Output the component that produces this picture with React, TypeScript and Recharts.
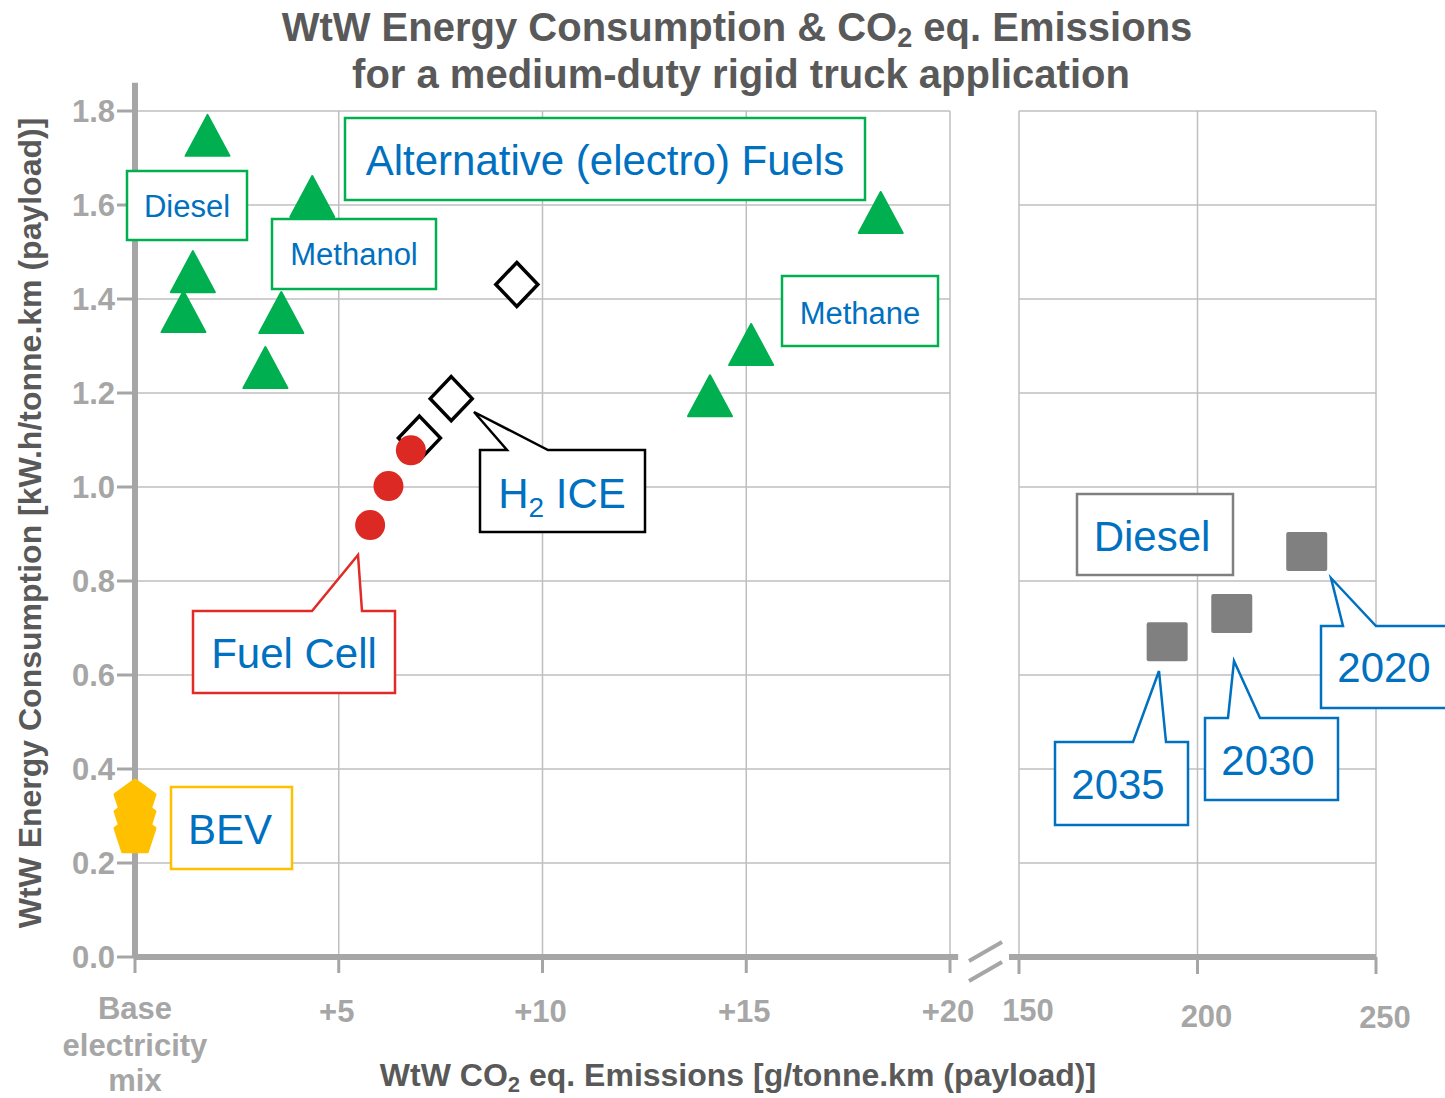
import React from 'react';
import { ScatterChart, Scatter, XAxis, YAxis, CartesianGrid, ReferenceLine } from 'recharts';

const W = 1445;
const H = 1098;

// axes
const yTicks = [0, 0.2, 0.4, 0.6, 0.8, 1.0, 1.2, 1.4, 1.6, 1.8];
const leftTicks = [0, 5, 10, 15, 20]; // + g/tonne.km over base electricity mix
const rightTicks = [150, 200, 250];

// alternative (electro) fuels
const efDieselX = [1.78, 1.42, 1.19];
const efDieselY = [1.745, 1.455, 1.37];
const methanolX = [4.35, 3.59, 3.2];
const methanolY = [1.615, 1.368, 1.251];
const methaneX = [18.3, 15.12, 14.11];
const methaneY = [1.581, 1.3, 1.191];

// hydrogen + battery
const h2IceX = [9.37, 7.76, 6.98];
const h2IceY = [1.431, 1.188, 1.104];
const fuelCellX = [6.77, 6.22, 5.77];
const fuelCellY = [1.078, 1.002, 0.919];
const bevX = [0, 0, 0];
const bevY = [0.332, 0.296, 0.26];

// fossil diesel
const dieselYears = ['2020', '2030', '2035'];
const dieselX = [230.6, 209.6, 191.5];
const dieselY = [0.863, 0.731, 0.671];

const zip = (xs: number[], ys: number[]) => xs.map((x, i) => ({ x, y: ys[i] }));

const FONT = '"Liberation Sans", Arial, Helvetica, sans-serif';
const AXIS_GRAY = '#A6A6A6';
const GRID_GRAY = '#BFBFBF';
const LABEL_GRAY = '#595959';
const BLUE = '#0070C0';
const GREEN = '#00B050';

const YW = 60;
const XH = 60;

const Triangle = (p: any) => (
  <polygon
    points={`${p.cx},${p.cy - 22} ${p.cx - 22},${p.cy + 19} ${p.cx + 22},${p.cy + 19}`}
    fill={GREEN}
    stroke={GREEN}
    strokeWidth={2}
    strokeLinejoin="round"
  />
);

const Diamond = (p: any) => (
  <polygon
    points={`${p.cx},${p.cy - 22} ${p.cx + 21},${p.cy} ${p.cx},${p.cy + 22} ${p.cx - 21},${p.cy}`}
    fill="#fff"
    stroke="#000"
    strokeWidth={3.5}
  />
);

const Dot = (p: any) => <circle cx={p.cx} cy={p.cy} r={15} fill="#DD2923" />;

const Pentagon = (p: any) => {
  const r = 21;
  const pts = [0, 1, 2, 3, 4]
    .map((k) => {
      const a = -Math.PI / 2 + (k * 2 * Math.PI) / 5;
      return `${p.cx + r * Math.cos(a)},${p.cy + r * Math.sin(a)}`;
    })
    .join(' ');
  return <polygon points={pts} fill="#FFC000" stroke="#FFC000" strokeWidth={3} strokeLinejoin="round" />;
};

const Square = (p: any) => (
  <rect x={p.cx - 20.5} y={p.cy - 19.5} width={41} height={39} rx={2} fill="#808080" />
);

const tickStyle = { fontFamily: FONT, fontWeight: 700, fontSize: 31, fill: AXIS_GRAY };

const LeftTick = ({ x, y, payload }: any) => {
  const v = payload.value;
  if (v === 0) {
    return (
      <text x={x} y={y} textAnchor="middle" style={tickStyle}>
        <tspan x={x} dy={44}>Base</tspan>
        <tspan x={x} dy={37}>electricity</tspan>
        <tspan x={x} dy={35}>mix</tspan>
      </text>
    );
  }
  return (
    <text x={x - 2} y={y + 47} textAnchor="middle" style={tickStyle}>
      {`+${v}`}
    </text>
  );
};

const rightTickShift: Record<number, number> = { 150: 45, 200: 51, 250: 52 };

const RightTick = ({ x, y, payload }: any) => (
  <text x={x + 9} y={y + (rightTickShift[payload.value] ?? 48)} textAnchor="middle" style={tickStyle}>
    {payload.value}
  </text>
);

const NoTick = () => <g />;

const boxText = { fontFamily: FONT, fill: BLUE, textAnchor: 'middle' as const };

export default function App() {
  return (
    <div style={{ position: 'absolute', left: 0, top: 0, width: W, height: H, background: '#fff', overflow: 'hidden' }}>
      {/* left panel: extra emissions over base mix */}
      <div style={{ position: 'absolute', left: 0, top: 0 }}>
        <ScatterChart
          width={W}
          height={H}
          margin={{ top: 111, right: W - 950, bottom: H - 957 - XH, left: 135 - YW }}
        >
          <CartesianGrid stroke={GRID_GRAY} strokeWidth={1.5} />
          <XAxis
            type="number"
            dataKey="x"
            domain={[0, 20]}
            ticks={leftTicks}
            height={XH}
            axisLine={{ stroke: AXIS_GRAY, strokeWidth: 6 }}
            tickLine={{ stroke: AXIS_GRAY, strokeWidth: 3 }}
            tickSize={16}
            tick={<LeftTick />}
            interval={0}
          />
          <YAxis
            type="number"
            dataKey="y"
            domain={[0, 1.8]}
            ticks={yTicks}
            width={YW}
            axisLine={false}
            tickLine={{ stroke: AXIS_GRAY, strokeWidth: 3 }}
            tickSize={18}
            tickFormatter={(v: number) => v.toFixed(1)}
            tick={tickStyle}
            interval={0}
          />
          <ReferenceLine
            segment={[{ x: 0, y: 0 }, { x: 0, y: 1.86 }]}
            stroke={AXIS_GRAY}
            strokeWidth={6}
            ifOverflow="visible"
          />
          <ReferenceLine
            segment={[{ x: 19.9, y: 0 }, { x: 20.2, y: 0 }]}
            stroke={AXIS_GRAY}
            strokeWidth={6}
            ifOverflow="visible"
          />
          <Scatter data={zip(efDieselX, efDieselY)} shape={Triangle} isAnimationActive={false} />
          <Scatter data={zip(methanolX, methanolY)} shape={Triangle} isAnimationActive={false} />
          <Scatter data={zip(methaneX, methaneY)} shape={Triangle} isAnimationActive={false} />
          <Scatter data={zip(h2IceX, h2IceY)} shape={Diamond} isAnimationActive={false} />
          <Scatter data={zip(fuelCellX, fuelCellY)} shape={Dot} isAnimationActive={false} />
          <Scatter data={zip(bevX, bevY)} shape={Pentagon} isAnimationActive={false} />
        </ScatterChart>
      </div>

      {/* right panel: absolute diesel emissions */}
      <div style={{ position: 'absolute', left: 0, top: 0 }}>
        <ScatterChart
          width={W}
          height={H}
          margin={{ top: 111, right: W - 1376, bottom: H - 957 - XH, left: 1019 - 1 }}
        >
          <CartesianGrid stroke={GRID_GRAY} strokeWidth={1.5} />
          <XAxis
            type="number"
            dataKey="x"
            domain={[150, 250]}
            ticks={rightTicks}
            height={XH}
            axisLine={{ stroke: AXIS_GRAY, strokeWidth: 6 }}
            tickLine={{ stroke: AXIS_GRAY, strokeWidth: 3 }}
            tickSize={17}
            tick={<RightTick />}
            interval={0}
          />
          <YAxis
            type="number"
            dataKey="y"
            domain={[0, 1.8]}
            ticks={yTicks}
            width={1}
            axisLine={false}
            tickLine={false}
            tick={<NoTick />}
            interval={0}
          />
          <ReferenceLine
            segment={[{ x: 147.2, y: 0 }, { x: 150.5, y: 0 }]}
            stroke={AXIS_GRAY}
            strokeWidth={6}
            ifOverflow="visible"
          />
          <Scatter
            data={dieselX.map((x, i) => ({ x, y: dieselY[i], year: dieselYears[i] }))}
            shape={Square}
            isAnimationActive={false}
          />
        </ScatterChart>
      </div>

      {/* titles, labels and callouts */}
      <svg width={W} height={H} style={{ position: 'absolute', left: 0, top: 0, pointerEvents: 'none' }}>
        <g style={{ fontFamily: FONT, fontWeight: 700, fill: LABEL_GRAY }}>
          <text x={737} y={41} textAnchor="middle" fontSize={40}>
            WtW Energy Consumption &amp; CO<tspan fontSize={27} dy={6}>2</tspan>
            <tspan dy={-6}> eq. Emissions</tspan>
          </text>
          <text x={741} y={88} textAnchor="middle" fontSize={40}>
            for a medium-duty rigid truck application
          </text>
          <text x={738} y={1086} textAnchor="middle" fontSize={32}>
            WtW CO<tspan fontSize={22} dy={6}>2</tspan>
            <tspan dy={-6}> eq. Emissions [g/tonne.km (payload)]</tspan>
          </text>
          <text transform="translate(41,523) rotate(-90)" textAnchor="middle" fontSize={32}>
            WtW Energy Consumption [kW.h/tonne.km (payload)]
          </text>
        </g>

        {/* axis break */}
        <line x1={969} y1={961} x2={1002} y2={942} stroke={AXIS_GRAY} strokeWidth={4} />
        <line x1={969} y1={981} x2={1002} y2={962} stroke={AXIS_GRAY} strokeWidth={4} />

        {/* plain labels */}
        <rect x={127} y={171} width={120} height={69} fill="#fff" stroke={GREEN} strokeWidth={2.5} />
        <text x={187} y={217} fontSize={31} style={boxText}>Diesel</text>

        <rect x={272} y={219} width={164} height={70} fill="#fff" stroke={GREEN} strokeWidth={2.5} />
        <text x={354} y={265} fontSize={31} style={boxText}>Methanol</text>

        <rect x={345} y={118} width={520} height={82} fill="#fff" stroke={GREEN} strokeWidth={2.5} />
        <text x={605} y={175} fontSize={42} style={boxText}>Alternative (electro) Fuels</text>

        <rect x={782} y={276} width={156} height={70} fill="#fff" stroke={GREEN} strokeWidth={2.5} />
        <text x={860} y={324} fontSize={31} style={boxText}>Methane</text>

        <rect x={171} y={787} width={121} height={82} fill="#fff" stroke="#FFC000" strokeWidth={2.5} />
        <text x={230} y={844} fontSize={42} style={boxText}>BEV</text>

        <rect x={1077} y={494} width={156} height={81} fill="#fff" stroke="#7F7F7F" strokeWidth={2.5} />
        <text x={1152} y={551} fontSize={42} style={boxText}>Diesel</text>

        {/* callouts */}
        <path
          d="M480,450 L507,450 L474,412 L548,450 L645,450 L645,532 L480,532 Z"
          fill="#fff"
          stroke="#000"
          strokeWidth={2.5}
        />
        <text x={562} y={508} fontSize={42} style={boxText}>
          H<tspan fontSize={28} dy={9}>2</tspan>
          <tspan dy={-9}> ICE</tspan>
        </text>

        <path
          d="M193,611 L312,611 L358,555 L362,611 L395,611 L395,693 L193,693 Z"
          fill="#fff"
          stroke="#E02B27"
          strokeWidth={2.5}
        />
        <text x={294} y={668} fontSize={42} style={boxText}>Fuel Cell</text>

        <path
          d="M1321,626 L1343,626 L1331,578 L1376,626 L1460,626 L1460,708 L1321,708 Z"
          fill="#fff"
          stroke={BLUE}
          strokeWidth={2.5}
        />
        <text x={1384} y={682} fontSize={42} style={boxText}>{dieselYears[0]}</text>

        <path
          d="M1205,718 L1228,718 L1234,661 L1260,718 L1338,718 L1338,800 L1205,800 Z"
          fill="#fff"
          stroke={BLUE}
          strokeWidth={2.5}
        />
        <text x={1268} y={775} fontSize={42} style={boxText}>{dieselYears[1]}</text>

        <path
          d="M1055,742 L1133,742 L1159,671 L1166,742 L1188,742 L1188,825 L1055,825 Z"
          fill="#fff"
          stroke={BLUE}
          strokeWidth={2.5}
        />
        <text x={1118} y={799} fontSize={42} style={boxText}>{dieselYears[2]}</text>
      </svg>
    </div>
  );
}
